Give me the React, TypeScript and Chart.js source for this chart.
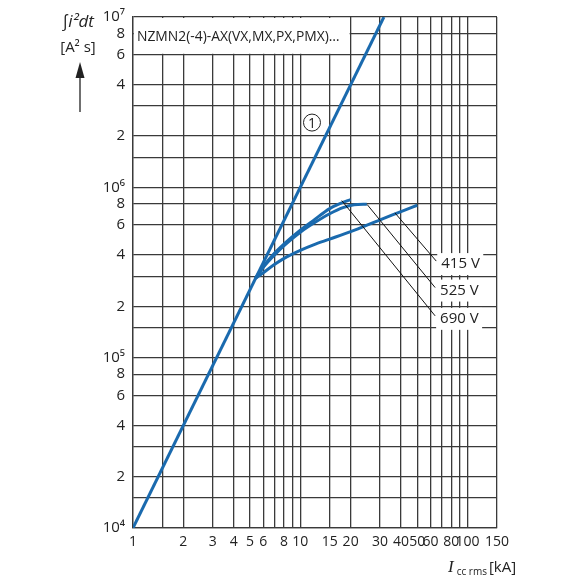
import React, { useEffect, useRef } from "react";
import { Chart, registerables } from "chart.js";
import type { Plugin } from "chart.js";

Chart.register(...registerables);

const FONT = "'Open Sans', sans-serif";
const BLUE = "#1a6aae";
const GRID = "#3a3a3a";
const TEXT = "#222";

const TITLE = "NZMN2(-4)-AX(VX,MX,PX,PMX)…";
// corner of the white title box, in data units
const TITLE_BOX_X = 20;
const TITLE_BOX_Y = 6e6;

const X_GRID = [1, 1.5, 2, 3, 4, 5, 6, 7, 8, 9, 10, 15, 20, 30, 40, 50, 60, 70, 80, 90, 100, 150];
const X_LABELS = ["1", "", "2", "3", "4", "5", "6", "", "8", "", "10", "15", "20", "30", "40", "50", "60", "", "80", "", "100", "150"];
const Y_GRID = [1e4, 1.5e4, 2e4, 3e4, 4e4, 6e4, 8e4, 1e5, 1.5e5, 2e5, 3e5, 4e5, 6e5, 8e5, 1e6, 1.5e6, 2e6, 3e6, 4e6, 6e6, 8e6, 1e7];
const Y_LABELS = ["10⁴", "", "2", "", "4", "6", "8", "10⁵", "", "2", "", "4", "6", "8", "10⁶", "", "2", "", "4", "6", "8", "10⁷"];

// curve (1): prospective I²t
const LINE1_X = [1, 31.62];
const LINE1_Y = [1e4, 1e7];

// let-through curves per voltage
const V415_X = [5.4, 6, 7, 8, 10, 12, 15, 20, 30, 40, 50];
const V415_Y = [2.92e5, 3.15e5, 3.52e5, 3.83e5, 4.27e5, 4.6e5, 4.97e5, 5.5e5, 6.45e5, 7.2e5, 7.85e5];
const V525_X = [5.4, 6, 7, 8, 10, 12, 15, 18, 21, 25];
const V525_Y = [2.92e5, 3.38e5, 4.0e5, 4.55e5, 5.45e5, 6.15e5, 7.0e5, 7.6e5, 7.9e5, 7.95e5];
const V690_X = [5.4, 6, 7, 8, 10, 12, 15, 17.7, 20];
const V690_Y = [2.92e5, 3.42e5, 4.1e5, 4.65e5, 5.6e5, 6.4e5, 7.5e5, 8.1e5, 8.47e5];

// leader lines to the voltage labels
const VOLT_LABELS = ["415 V", "525 V", "690 V"];
const LEADER_START_X = [36.8, 25.1, 17.7];
const LEADER_START_Y = [7.08e5, 7.93e5, 8.36e5];
const LEADER_END_X = [65, 64, 64];
const LEADER_END_Y = [3.69e5, 2.58e5, 1.76e5];

// circled "1" marker
const MARK_X = 11.75;
const MARK_Y = 2.4e6;

const pts = (xs: number[], ys: number[]) => xs.map((x, i) => ({ x, y: ys[i] }));

const overlay: Plugin<"scatter"> = {
  id: "overlay",
  beforeDatasetsDraw(chart) {
    const { ctx, chartArea: a, scales } = chart;
    const bx = scales.x.getPixelForValue(TITLE_BOX_X);
    const by = scales.y.getPixelForValue(TITLE_BOX_Y);
    ctx.save();
    ctx.fillStyle = "#fff";
    ctx.fillRect(a.left + 1, a.top + 1, bx - a.left - 2, by - a.top - 2);
    ctx.fillStyle = TEXT;
    ctx.font = `15px ${FONT}`;
    ctx.textBaseline = "middle";
    // squeeze to mimic the condensed face of the original
    const w = ctx.measureText(TITLE).width;
    const k = Math.min(1, (bx - a.left - 15) / w);
    ctx.translate(a.left + 4, (a.top + by) / 2 + 1);
    ctx.scale(k, 1);
    ctx.fillText(TITLE, 0, 0);
    ctx.restore();
  },
  afterDatasetsDraw(chart) {
    const { ctx, scales } = chart;
    ctx.save();
    ctx.font = `15px ${FONT}`;
    ctx.textBaseline = "middle";
    VOLT_LABELS.forEach((lab, i) => {
      const px = scales.x.getPixelForValue(LEADER_END_X[i]);
      const py = scales.y.getPixelForValue(LEADER_END_Y[i]);
      ctx.fillStyle = "#fff";
      ctx.fillRect(px + 1, py - 8, 46, 22);
      ctx.fillStyle = TEXT;
      ctx.fillText(lab, px + 5, py + 3);
    });
    const mx = scales.x.getPixelForValue(MARK_X);
    const my = scales.y.getPixelForValue(MARK_Y);
    ctx.beginPath();
    ctx.arc(mx, my, 8.5, 0, Math.PI * 2);
    ctx.fillStyle = "#fff";
    ctx.fill();
    ctx.lineWidth = 1;
    ctx.strokeStyle = TEXT;
    ctx.stroke();
    ctx.fillStyle = TEXT;
    ctx.textAlign = "center";
    ctx.font = `14px ${FONT}`;
    ctx.fillText("1", mx, my + 1);
    ctx.restore();
  },
  afterDraw(chart) {
    const { ctx } = chart;
    ctx.save();
    ctx.fillStyle = TEXT;
    ctx.strokeStyle = TEXT;
    ctx.textAlign = "center";
    ctx.textBaseline = "middle";
    ctx.font = `italic 17px ${FONT}`;
    ctx.fillText("∫i²dt", 78, 22);
    ctx.font = `15px ${FONT}`;
    ctx.fillText("[A² s]", 78, 48);
    // arrow
    ctx.lineWidth = 1.3;
    ctx.beginPath();
    ctx.moveTo(80, 112);
    ctx.lineTo(80, 76);
    ctx.stroke();
    ctx.beginPath();
    ctx.moveTo(80, 62);
    ctx.lineTo(75.5, 78);
    ctx.lineTo(84.5, 78);
    ctx.closePath();
    ctx.fill();
    // x-axis title, placed piece by piece
    ctx.textAlign = "left";
    ctx.textBaseline = "alphabetic";
    let x = 448;
    ctx.font = "italic 17px 'Liberation Serif', serif";
    ctx.fillText("I", x, 572);
    x += ctx.measureText("I").width + 3;
    ctx.font = `10px ${FONT}`;
    ctx.fillText("cc rms", x, 575);
    x += ctx.measureText("cc rms").width + 2;
    ctx.font = `15px ${FONT}`;
    ctx.fillText("[kA]", x, 572);
    ctx.restore();
  },
};

export default function App() {
  const canvasRef = useRef<HTMLCanvasElement | null>(null);

  useEffect(() => {
    const canvas = canvasRef.current;
    if (!canvas) return;

    const curve = (xs: number[], ys: number[]) => ({
      data: pts(xs, ys),
      showLine: true,
      borderColor: BLUE,
      borderWidth: 3,
      pointRadius: 0,
      cubicInterpolationMode: "monotone" as const,
    });

    const leaders = VOLT_LABELS.map((_, i) => ({
      data: [
        { x: LEADER_START_X[i], y: LEADER_START_Y[i] },
        { x: LEADER_END_X[i], y: LEADER_END_Y[i] },
      ],
      showLine: true,
      borderColor: "#111",
      borderWidth: 1,
      pointRadius: 0,
    }));

    const chart = new Chart(canvas, {
      type: "scatter",
      data: {
        datasets: [
          ...leaders,
          curve(LINE1_X, LINE1_Y),
          curve(V415_X, V415_Y),
          curve(V525_X, V525_Y),
          curve(V690_X, V690_Y),
        ],
      },
      options: {
        responsive: false,
        animation: false,
        layout: { padding: { left: 0, top: 15, right: 83, bottom: 0 } },
        plugins: { legend: { display: false }, tooltip: { enabled: false } },
        scales: {
          x: {
            type: "logarithmic",
            min: 1,
            max: 150,
            afterBuildTicks: (s) => {
              s.ticks = X_GRID.map((v) => ({ value: v }));
            },
            afterFit: (s) => {
              s.height = 52;
            },
            grid: { color: GRID, lineWidth: 1.3, drawTicks: false },
            border: { color: GRID, width: 1.3 },
            ticks: {
              autoSkip: false,
              maxRotation: 0,
              padding: 6,
              color: TEXT,
              font: { family: FONT, size: 14 },
              callback: (_v, i) => X_LABELS[i],
            },
          },
          y: {
            type: "logarithmic",
            min: 1e4,
            max: 1e7,
            afterBuildTicks: (s) => {
              s.ticks = Y_GRID.map((v) => ({ value: v }));
            },
            afterFit: (s) => {
              s.width = 133;
            },
            grid: { color: GRID, lineWidth: 1.3, drawTicks: false },
            border: { color: GRID, width: 1.3 },
            ticks: {
              autoSkip: false,
              padding: 8,
              color: TEXT,
              font: { family: FONT, size: 15 },
              callback: (_v, i) => Y_LABELS[i],
            },
          },
        },
      },
      plugins: [overlay],
    });

    return () => chart.destroy();
  }, []);

  return (
    <div style={{ position: "fixed", left: 0, top: 0, width: 580, height: 580, background: "#fff" }}>
      <canvas ref={canvasRef} width={580} height={580} />
    </div>
  );
}
